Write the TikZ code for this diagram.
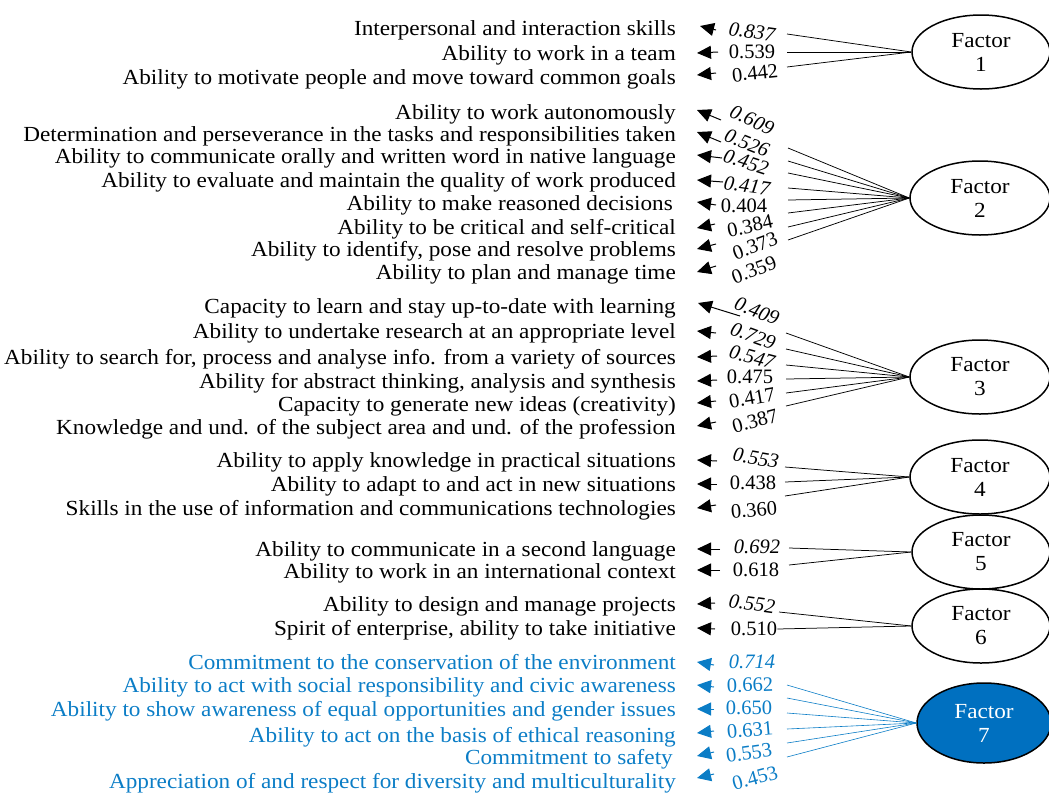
\documentclass[tikz,border=0pt]{standalone}
\usepackage{fontspec}
\setmainfont{Liberation Serif}
\newfontfamily\labfont{Liberation Serif}[FakeStretch=1.08]
\usetikzlibrary{arrows.meta,shapes.geometric}
\definecolor{itemblue}{HTML}{0B7DC6}
\definecolor{factorfill}{HTML}{0070C0}
% stub arrow from a tail point to a tip point, both kept as named coordinates
\newcommand\stub[4][]{%
  \coordinate (tip-#2) at (#3);
  \coordinate (tail-#2) at (#4);
  \draw[arr,#1] (tail-#2) -- (tip-#2);}
\begin{document}
\begin{tikzpicture}[x=1pt,y=-1pt,
  lab/.style={font=\labfont\fontsize{21.5}{24}\selectfont,anchor=mid east,
    inner sep=0pt,yshift=-5pt},
  num/.style={font=\fontsize{20.5}{23}\selectfont,inner sep=0pt},
  arr/.style={-{Triangle[length=14pt,width=13pt]},line width=1pt},
  link/.style={line width=0.75pt},
  grpseven/.style={color=itemblue},
  factor/.style={ellipse,draw,line width=1.5pt,minimum width=138pt,
    minimum height=74pt,inner sep=0pt,align=center,
    font=\labfont\fontsize{21.5}{24}\selectfont},
]
\useasboundingbox (0,0) rectangle (1049,793);

% ---------------- factor ellipses ----------------
\node[factor] (F1) at (981,52)  {Factor\\1};
\node[factor,minimum width=140pt] (F2) at (980,198) {Factor\\2};
\node[factor,minimum width=140pt] (F3) at (980,377) {Factor\\3};
\node[factor,minimum width=140pt] (F4) at (980,477) {Factor\\4};
\node[factor] (F5) at (981,552) {Factor\\5};
\node[factor] (F6) at (981,626) {Factor\\6};
\node[factor,fill=factorfill,text=white,minimum width=134pt,minimum height=80pt]
  (F7) at (984,723) {Factor\\7};

% ---------------- factor 1 ----------------
\node[lab] (l1) at (676,28) {Interpersonal and interaction skills};
\node[lab] (l2) at (676,53) {Ability to work in a team};
\node[lab] (l3) at (676,77) {Ability to motivate people and move toward common goals};
\stub{1}{700,26}{716,30}
\stub{2}{697,53}{718,52}
\stub{3}{697,75}{716,73}
\node[num,rotate=-8] (n1) at (752,32) {\itshape 0.837};
\node[num] (n2) at (752,52) {0.539};
\node[num,rotate=6] (n3) at (755,73) {0.442};
\coordinate (s1) at (787,34);
\coordinate (s2) at (787,52);
\coordinate (s3) at (787,67);
\foreach \i in {1,2,3} \draw[link] (s\i) -- (F1.west);

% ---------------- factor 2 ----------------
\node[lab] (l4)  at (676,112) {Ability to work autonomously};
\node[lab] (l5)  at (676,134) {Determination and perseverance in the tasks and responsibilities taken};
\node[lab] (l6)  at (676,156) {Ability to communicate orally and written word in native language};
\node[lab] (l7)  at (676,180) {Ability to evaluate and maintain the quality of work produced};
\node[lab] (l8)  at (673,203) {Ability to make reasoned decisions};
\node[lab] (l9)  at (676,227) {Ability to be critical and self-critical};
\node[lab] (l10) at (676,249) {Ability to identify, pose and resolve problems};
\node[lab] (l11) at (676,272) {Ability to plan and manage time};
\stub{4}{697,110}{721,120}
\stub{5}{697,132}{721,142}
\stub{6}{697,155}{722,158}
\stub{7}{697,180}{723,182}
\stub{8}{697,202}{716,205}
\stub{9}{697,228}{715,224}
\stub{10}{697,249}{716,244}
\stub{11}{697,272}{716,266}
\node[num,rotate=-25] (n4)  at (752,120) {\itshape 0.609};
\node[num,rotate=-22] (n5)  at (747,143) {\itshape 0.526};
\node[num,rotate=-18] (n6)  at (746,162) {\itshape 0.452};
\node[num,rotate=-8]  (n7)  at (747,186) {\itshape 0.417};
\node[num]            (n8)  at (744,206) {0.404};
\node[num,rotate=12]  (n9)  at (750,226) {0.384};
\node[num,rotate=20]  (n10) at (755,246) {0.373};
\node[num,rotate=20]  (n11) at (754,270) {0.359};
\foreach \i/\y in {4/148,5/161,6/173,7/188,8/200,9/213,10/227,11/240}{
  \coordinate (s\i) at (788,\y);
  \draw[link] (s\i) -- (F2.west);}

% ---------------- factor 3 ----------------
\node[lab] (l12) at (676,306) {Capacity to learn and stay up-to-date with learning};
\node[lab] (l13) at (676,331) {Ability to undertake research at an appropriate level};
\node[lab] (l14) at (676,357) {Ability to search for, process and analyse info. from a variety of sources};
\node[lab] (l15) at (676,381) {Ability for abstract thinking, analysis and synthesis};
\node[lab] (l16) at (676,404) {Capacity to generate new ideas (creativity)};
\node[lab] (l17) at (676,427) {Knowledge and und. of the subject area and und. of the profession};
\stub{12}{698,303}{740,316}
\stub{13}{697,331}{716,333}
\stub{14}{697,357}{717,356}
\stub{15}{697,381}{717,380}
\stub{16}{697,403}{716,401}
\stub{17}{697,426}{716,422}
\node[num,rotate=-22] (n12) at (757,311) {\itshape 0.409};
\node[num,rotate=-20] (n13) at (753,336) {\itshape 0.729};
\node[num,rotate=-15] (n14) at (752,357) {\itshape 0.547};
\node[num]            (n15) at (750,377) {0.475};
\node[num,rotate=10]  (n16) at (752,398) {0.417};
\node[num,rotate=15]  (n17) at (755,421) {0.387};
\foreach \i/\y in {13/333,14/349,15/365,16/379,17/393,18/406}{
  \coordinate (s\i) at (786,\y);
  \draw[link] (s\i) -- (F3.west);}

% ---------------- factor 4 ----------------
\node[lab] (l18) at (676,460) {Ability to apply knowledge in practical situations};
\node[lab] (l19) at (676,484) {Ability to adapt to and act in new situations};
\node[lab] (l20) at (676,508) {Skills in the use of information and communications technologies};
\stub{18}{697,460}{717,461}
\stub{19}{697,484}{717,484}
\stub{20}{697,508}{716,505}
\node[num,rotate=-10] (n18) at (756,458) {\itshape 0.553};
\node[num]            (n19) at (753,483) {0.438};
\node[num,rotate=5]   (n20) at (754,510) {0.360};
\foreach \i/\y in {19/467,20/482,21/496}{
  \coordinate (s\i) at (785,\y);
  \draw[link] (s\i) -- (F4.west);}

% ---------------- factor 5 ----------------
\node[lab] (l21) at (676,549) {Ability to communicate in a second language};
\node[lab] (l22) at (676,571) {Ability to work in an international context};
\stub{21}{697,549}{720,549}
\stub{22}{697,570}{720,570}
\node[num] (n21) at (757,547) {\itshape 0.692};
\node[num] (n22) at (756,570) {0.618};
\coordinate (s22) at (789,548);
\coordinate (s23) at (789,565);
\foreach \i in {22,23} \draw[link] (s\i) -- (F5.west);

% ---------------- factor 6 ----------------
\node[lab] (l23) at (676,604) {Ability to design and manage projects};
\node[lab] (l24) at (676,628) {Spirit of enterprise, ability to take initiative};
\stub{23}{697,604}{715,603}
\stub{24}{697,628}{715,629}
\node[num,rotate=-8] (n23) at (752,604) {\itshape 0.552};
\node[num]           (n24) at (754,629) {0.510};
\coordinate (s24) at (779,612);
\draw[link] (s24) -- (F6.west);
\draw[link] (n24.east) -- (F6.west);

% ---------------- factor 7 ----------------
\begin{scope}[grpseven]
\node[lab] (l25) at (676,662) {Commitment to the conservation of the environment};
\node[lab] (l26) at (676,685) {Ability to act with social responsibility and civic awareness};
\node[lab] (l27) at (676,709) {Ability to show awareness of equal opportunities and gender issues};
\node[lab] (l28) at (676,735) {Ability to act on the basis of ethical reasoning};
\node[lab] (l29) at (673,757) {Commitment to safety};
\node[lab] (l30) at (676,781) {Appreciation of and respect for diversity and multiculturality};
\stub{25}{697,662}{714,665}
\stub{26}{697,685}{714,687}
\stub{27}{697,709}{714,709}
\stub{28}{697,733}{714,731}
\stub{29}{697,756}{714,752}
\stub{30}{697,778}{714,774}
\node[num]            (n25) at (752,662) {\itshape 0.714};
\node[num,rotate=2]   (n26) at (750,685) {0.662};
\node[num]            (n27) at (749,708) {0.650};
\node[num,rotate=5]   (n28) at (750,730) {0.631};
\node[num,rotate=8]   (n29) at (749,753) {0.553};
\node[num,rotate=15]  (n30) at (755,778) {0.453};
\foreach \i/\y in {25/685,26/698,27/713,28/729,29/743,30/757}{
  \coordinate (s\i) at (787,\y);
  \draw[link,line width=0.6pt] (s\i) -- (F7.west);}
\end{scope}
\end{tikzpicture}
\end{document}
